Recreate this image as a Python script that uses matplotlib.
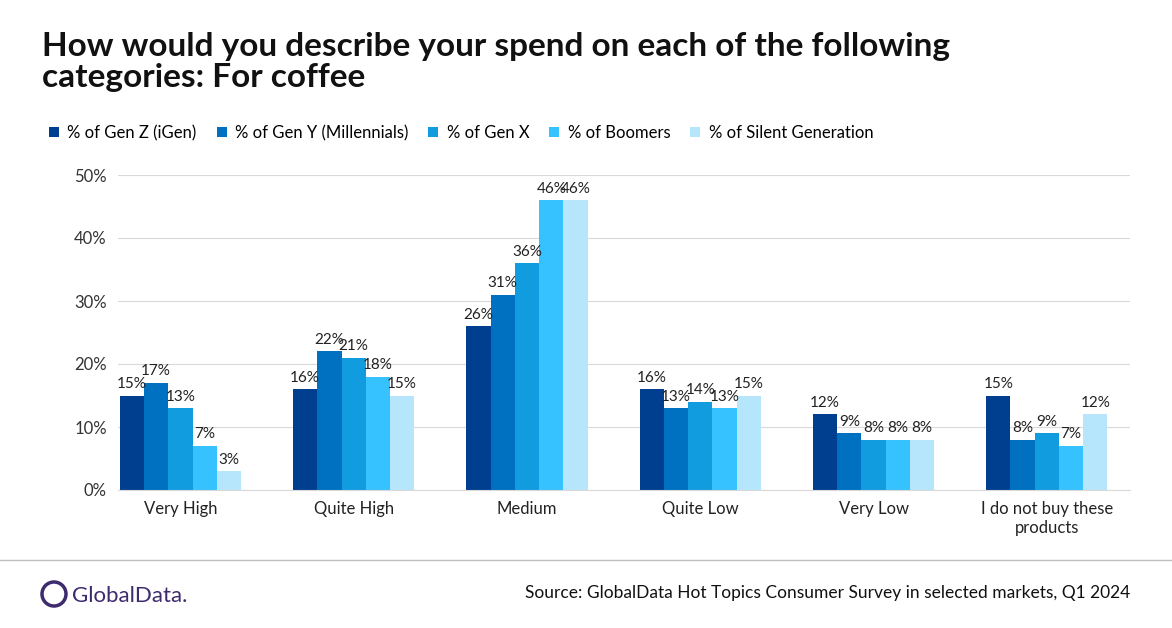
import matplotlib.pyplot as plt
import numpy as np
from matplotlib.patches import Ellipse

plt.rcParams['font.family'] = ['Lato', 'DejaVu Sans']

categories = ["Very High", "Quite High", "Medium", "Quite Low", "Very Low",
              "I do not buy these\nproducts"]
series = ["% of Gen Z (iGen)", "% of Gen Y (Millennials)", "% of Gen X",
          "% of Boomers", "% of Silent Generation"]
gen_z = [15, 16, 26, 16, 12, 15]
gen_y = [17, 22, 31, 13, 9, 8]
gen_x = [13, 21, 36, 14, 8, 9]
boomers = [7, 18, 46, 13, 8, 7]
silent = [3, 15, 46, 15, 8, 12]
values = [gen_z, gen_y, gen_x, boomers, silent]
colors = ["#003f8f", "#0070c0", "#129ce0", "#35c2ff", "#b5e6fb"]

fig = plt.figure(figsize=(11.72, 6.28), dpi=100)
ax = fig.add_axes([118 / 1172, 1 - 490 / 628, (1130 - 118) / 1172, (490 - 175) / 628])

x = np.arange(len(categories))
w = 0.14
for i, (name, vals, col) in enumerate(zip(series, values, colors)):
    pos = x + (i - 2) * w
    ax.bar(pos, vals, w, color=col, label=name)
    for p, v in zip(pos, vals):
        ax.text(p, v + 0.7, f"{v}%", ha="center", va="bottom", fontsize=11, color="#222222")

ax.set_ylim(0, 50)
ax.set_xlim(-0.36, 5.48)
ax.set_yticks(range(0, 51, 10))
ax.set_yticklabels([f"{t}%" for t in range(0, 51, 10)], fontsize=12, color="#333333")
ax.set_xticks(x)
ax.set_xticklabels(categories, fontsize=12, color="#222222")
ax.tick_params(length=0, pad=8)
ax.grid(axis="y", color="#d9d9d9", linewidth=0.8)
ax.set_axisbelow(True)
for s in ["top", "right", "left"]:
    ax.spines[s].set_visible(False)
ax.spines["bottom"].set_color("#d9d9d9")

fig.text(42 / 1172, 1 - 62 / 628, "How would you describe your spend on each of the following\ncategories: For coffee",
         fontsize=24, fontweight="bold", va="center", ha="left", color="#111111", linespacing=1.1)
fig.legend(loc="center left", bbox_to_anchor=(34 / 1172, 1 - 133 / 628), ncol=5, frameon=False,
           fontsize=12, handlelength=0.6, handleheight=0.6, columnspacing=1.2, handletextpad=0.5)

fig.add_artist(plt.Line2D([0, 1], [1 - 560 / 628] * 2, color="#bfbfbf", linewidth=1))
fig.add_artist(Ellipse((54 / 1172, 1 - 594 / 628), 24 / 1172, 24 / 628, transform=fig.transFigure,
                       fill=False, edgecolor="#3d2b6e", linewidth=2.5))
fig.text(72 / 1172, 1 - 596 / 628, "GlobalData.", fontsize=16, color="#3d2b6e", va="center", ha="left")
fig.text(1130 / 1172, 1 - 593 / 628, "Source: GlobalData Hot Topics Consumer Survey in selected markets, Q1 2024",
         fontsize=12.5, ha="right", va="center", color="#111111")

fig.savefig("out.png", dpi=100)
